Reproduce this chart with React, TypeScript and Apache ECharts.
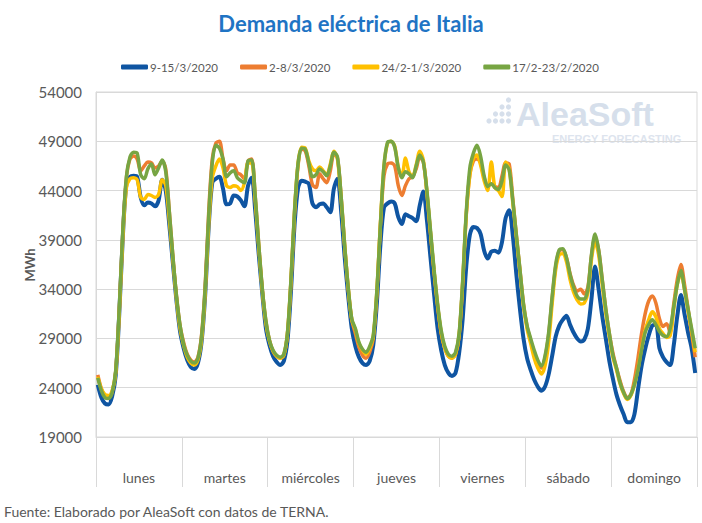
import React, { useEffect, useRef } from "react";
import * as echarts from "echarts";

const DAYS = ["lunes", "martes", "miércoles", "jueves", "viernes", "sábado", "domingo"];
const HOURS = ["0h","1h","2h","3h","4h","5h","6h","7h","8h","9h","10h","11h","12h","13h","14h","15h","16h","17h","18h","19h","20h","21h","22h","23h"];
const HOUR_CATEGORIES = DAYS.flatMap((d) => HOURS.map((h) => `${d} ${h}`));

const Y_MIN = 19000;
const Y_MAX = 54000;
const Y_STEP = 5000;

const SERIES_NAMES = ["9-15/3/2020", "2-8/3/2020", "24/2-1/3/2020", "17/2-23/2/2020"];
const SERIES_COLORS = ["#0F55A2", "#ED7D31", "#FFC000", "#77A543"];

// 9-15/3/2020
const WEEK_9_15_MAR = [
  24300, 23000, 22400, 22300, 23100, 25200, 31500, 39300, 44700, 45400, 45500, 45400, 43300, 42500, 42800, 42700, 42400, 43000, 45100, 44000, 40500, 36600, 32800, 29700,
  28000, 26800, 26100, 25900, 26500, 28600, 33300, 40300, 44800, 45200, 45400, 44200, 42600, 42700, 43500, 43400, 43000, 42400, 44500, 45300, 42000, 37500, 33500, 30000,
  28300, 27200, 26600, 26300, 26700, 28700, 33800, 40500, 44300, 45000, 44900, 44700, 42700, 42300, 42600, 42700, 42300, 41800, 44200, 45200, 42000, 37300, 33300, 30000,
  28200, 27100, 26500, 26300, 26700, 28300, 32500, 38500, 42300, 42700, 42900, 42700, 41300, 40600, 41600, 41400, 41200, 40900, 42500, 43900, 41000, 37200, 33500, 30000,
  27800, 26300, 25500, 25200, 25500, 27500, 31000, 36300, 39500, 40300, 40200, 39600, 37900, 37100, 37800, 37900, 37700, 38800, 41200, 42000, 39500, 35500, 32000, 29000,
  27000, 25800, 24800, 24100, 23700, 24100, 25300, 27200, 29200, 30300, 30900, 31300, 30400, 29600, 29000, 28700, 28900, 30000, 33000, 36300, 34000, 31300, 29000, 26700,
  24900, 23300, 22200, 21300, 20500, 20500, 21300, 23800, 26200, 27900, 29300, 30300, 30400, 28000, 27100, 26600, 26300, 28300, 31300, 33400, 31500, 29600, 28000, 25500,
];

// 2-8/3/2020
const WEEK_2_8_MAR = [
  25300, 23900, 23200, 23000, 23500, 25600, 31800, 39800, 45300, 47200, 47500, 47200, 46000, 46500, 46900, 46800, 46300, 46500, 47000, 46200, 41900, 37300, 33300, 30300,
  28600, 27400, 26800, 26600, 27100, 29300, 34200, 41800, 47200, 48800, 49000, 47200, 46000, 46600, 46600, 45800, 45600, 45200, 47000, 47200, 43400, 38500, 34000, 30700,
  28800, 27700, 27200, 27000, 27300, 29400, 34800, 41800, 46600, 48200, 48000, 46500, 44600, 44300, 45700, 45200, 44800, 46000, 47700, 47300, 43500, 38500, 34100, 30900,
  29500, 28100, 27300, 27000, 27600, 29000, 33500, 40500, 45500, 46700, 46800, 46500, 44500, 43500, 44500, 45200, 45400, 46200, 47400, 46900, 43800, 39700, 35800, 32300,
  29500, 28000, 27200, 27000, 27400, 29300, 34600, 41500, 45600, 47000, 47200, 46800, 45300, 44500, 44700, 44400, 44300, 45500, 46800, 46700, 43200, 39500, 36000, 32500,
  30200, 28800, 27500, 26500, 26000, 27000, 29300, 33000, 36300, 37900, 38000, 37200, 35600, 34400, 33800, 34000, 33500, 34200, 37400, 39300, 38000, 35000, 32000, 29500,
  27500, 26000, 24700, 23600, 23000, 23300, 24800, 27000, 29500, 31500, 32800, 33300, 32600, 31000, 30200, 30500, 29600, 32500, 35000, 36500, 34500, 32000, 29500, 27100,
];

// 24/2-1/3/2020
const WEEK_24_FEB_1_MAR = [
  25100, 23900, 23300, 23200, 23700, 25500, 31600, 39300, 44300, 45200, 45300, 45100, 43300, 43100, 43600, 43500, 43300, 43600, 45100, 44500, 41000, 37000, 33000, 30000,
  28300, 27100, 26500, 26300, 26800, 28800, 33500, 40500, 45300, 46500, 47200, 46300, 44500, 44300, 44500, 44400, 44000, 44800, 46800, 46800, 43000, 38200, 33800, 30500,
  28700, 27700, 27200, 27000, 27300, 29400, 34800, 41800, 46800, 48400, 48300, 47000, 46200, 46000, 46400, 46000, 45600, 46700, 48000, 47200, 43300, 38400, 34100, 30900,
  29900, 28500, 27800, 27400, 28000, 29200, 33700, 40600, 46500, 48800, 49000, 48500, 46400, 45400, 47300, 45900, 45400, 46600, 48000, 47100, 43800, 39700, 35800, 32300,
  29600, 28000, 27200, 27000, 27400, 29300, 34600, 41600, 45600, 47300, 47600, 46600, 45000, 44000, 46900, 44300, 44000, 43400, 46900, 46200, 42800, 39300, 35800, 32300,
  30000, 28500, 27000, 26000, 25400, 26200, 28500, 32500, 36000, 37500, 37600, 36800, 35000, 33700, 32900, 32500, 32600, 33600, 37000, 38800, 37500, 34500, 31600, 29200,
  27100, 25800, 24400, 23400, 22800, 23200, 24300, 25900, 28000, 29800, 30900, 31700, 31200, 30000, 29500, 29100, 29300, 32000, 34500, 35600, 34000, 31800, 29800, 27600,
];

// 17/2-23/2/2020
const WEEK_17_23_FEB = [
  25000, 23700, 23000, 22900, 23500, 25700, 32000, 40000, 45400, 47400, 47900, 47800, 45600, 45200, 46200, 46700, 45600, 46300, 47100, 45900, 41800, 37300, 33300, 30300,
  28400, 27300, 26700, 26500, 27000, 29200, 34000, 41400, 46800, 48600, 48300, 47200, 45400, 45800, 46000, 45300, 45000, 44800, 47000, 47100, 43500, 38500, 34000, 30800,
  28800, 27800, 27300, 27100, 27400, 29500, 35000, 42000, 46800, 48300, 48200, 46800, 45400, 45600, 46200, 45900, 45500, 46500, 47900, 47400, 43500, 38500, 34200, 31000,
  30000, 28600, 27900, 27600, 28200, 29300, 33800, 40500, 46500, 48900, 49000, 48400, 46300, 45300, 45900, 45700, 45300, 46500, 47600, 46900, 44000, 40000, 36000, 32500,
  29800, 28200, 27400, 27200, 27600, 29500, 34900, 41800, 46300, 47800, 48600, 47500, 45500, 44400, 44700, 44300, 44100, 45000, 46600, 46100, 43000, 39500, 36000, 32500,
  30300, 29000, 27800, 26800, 26200, 27200, 29500, 33200, 36500, 38000, 38100, 37200, 35500, 34200, 33300, 33000, 33000, 34000, 37500, 39600, 38000, 35000, 32000, 29500,
  27300, 26000, 24500, 23500, 22900, 23300, 24300, 25800, 27800, 29600, 30400, 30900, 30400, 29700, 29300, 29200, 30000, 32200, 34500, 35900, 34000, 32000, 30000, 28000,
];

const SERIES_DATA = [WEEK_9_15_MAR, WEEK_2_8_MAR, WEEK_24_FEB_1_MAR, WEEK_17_23_FEB];

const TITLE = "Demanda eléctrica de Italia";
const Y_NAME = "MWh";
const SOURCE = "Fuente: Elaborado por AleaSoft con datos de TERNA.";

const FONT = "Lato, 'Open Sans', sans-serif";
const GRAY = "#595959";
const GRID_GRAY = "#d9d9d9";
const WM = "#d6dfeb";

export default function App() {
  const ref = useRef<HTMLDivElement>(null);

  useEffect(() => {
    if (!ref.current) return;
    const chart = echarts.init(ref.current, undefined, { renderer: "svg" });

    const dots: any[] = [];
    const dotCols = [
      { x: 489, rows: [121] },
      { x: 495.5, rows: [114, 121] },
      { x: 502, rows: [107, 114, 121] },
      { x: 508.5, rows: [100, 107, 114, 121] },
    ];
    dotCols.forEach((c) =>
      c.rows.forEach((y) =>
        dots.push({ type: "circle", shape: { cx: c.x, cy: y, r: 2.6 }, style: { fill: WM }, z: 0, silent: true })
      )
    );

    chart.setOption({
      animation: false,
      backgroundColor: "#ffffff",
      textStyle: { fontFamily: FONT },
      title: {
        text: TITLE,
        left: "center",
        top: 7,
        textStyle: { fontSize: 22, fontWeight: "bold", color: "#1F74C4", fontFamily: FONT },
      },
      legend: {
        data: SERIES_NAMES,
        top: 56,
        left: 116,
        icon: "roundRect",
        itemWidth: 27,
        itemHeight: 5,
        itemGap: 22,
        textStyle: { color: GRAY, fontSize: 11.5, fontFamily: FONT, padding: [0, 0, 0, -3] },
      },
      grid: {
        left: 96,
        right: 5,
        top: 92,
        bottom: 86,
        show: true,
        borderColor: GRID_GRAY,
        borderWidth: 1,
      },
      xAxis: [
        {
          type: "category",
          data: HOUR_CATEGORIES,
          boundaryGap: true,
          show: false,
        },
        {
          type: "category",
          data: DAYS,
          boundaryGap: true,
          position: "bottom",
          axisLine: { show: true, lineStyle: { color: GRID_GRAY, width: 1 } },
          axisTick: { show: true, length: 50, interval: 0, lineStyle: { color: GRID_GRAY, width: 1 } },
          axisLabel: { interval: 0, margin: 33, fontSize: 14, color: GRAY, fontFamily: FONT },
          splitLine: { show: false },
        },
      ],
      yAxis: {
        type: "value",
        min: Y_MIN,
        max: Y_MAX,
        interval: Y_STEP,
        axisLine: { show: true, lineStyle: { color: GRID_GRAY, width: 1 } },
        axisTick: { show: false },
        axisLabel: {
          fontSize: 15,
          color: GRAY,
          margin: 14,
          fontFamily: FONT,
          formatter: (v: number) => String(v),
        },
        splitLine: { show: true, lineStyle: { color: GRID_GRAY, width: 1 } },
      },
      series: SERIES_NAMES.map((name, i) => ({
        name,
        type: "line",
        xAxisIndex: 0,
        data: SERIES_DATA[i],
        showSymbol: false,
        symbol: "none",
        smooth: 0.3,
        color: SERIES_COLORS[i],
        lineStyle: { width: i === 0 ? 4 : 3.5, color: SERIES_COLORS[i] },
        z: 2 + i,
      })),
      graphic: [
        ...dots,
        {
          type: "text",
          left: 516,
          top: 97,
          z: 0,
          silent: true,
          style: { text: "AleaSoft", fill: WM, font: "bold 34px 'Liberation Sans', Arial, sans-serif" },
        },
        {
          type: "text",
          left: 552,
          top: 133,
          z: 0,
          silent: true,
          style: { text: "ENERGY FORECASTING", fill: "#dde4ee", font: "bold 11px 'Liberation Sans', Arial, sans-serif" },
        },
        {
          type: "text",
          x: 30,
          y: 265,
          rotation: Math.PI / 2,
          silent: true,
          style: {
            text: Y_NAME,
            fill: GRAY,
            font: `bold 13px ${FONT}`,
            align: "center",
            verticalAlign: "middle",
          },
        },
        {
          type: "text",
          left: 4,
          top: 504,
          silent: true,
          style: { text: SOURCE, fill: GRAY, font: `14px ${FONT}` },
        },
      ],
    });

    return () => chart.dispose();
  }, []);

  return (
    <div
      ref={ref}
      style={{ position: "fixed", left: 0, top: 0, width: 702, height: 523, background: "#fff" }}
    />
  );
}
